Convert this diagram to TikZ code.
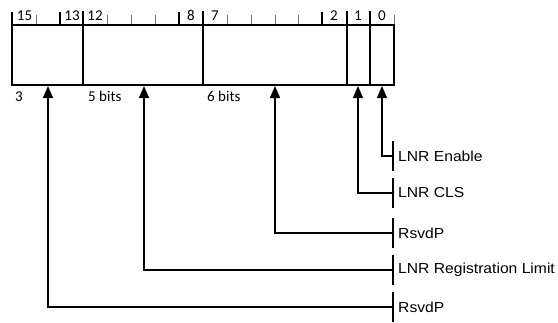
\documentclass[tikz,border=0pt]{standalone}
\usepackage{fontspec}
\setmainfont{Liberation Sans}
\newfontfamily\calib{Carlito}
\usetikzlibrary{arrows.meta}
\begin{document}
\begin{tikzpicture}[x=1pt,y=-1pt,
  fieldbox/.style={draw=black,line width=1.4pt},
  majtick/.style={draw=black,line width=1.4pt},
  mintick/.style={draw=black!55,line width=0.8pt},
  bitnum/.style={font=\calib\fontsize{15}{15}\selectfont,inner sep=0pt,anchor=base},
  widthlbl/.style={font=\calib\fontsize{15}{15}\selectfont,inner sep=0pt,anchor=base west},
  fieldlbl/.style={font=\fontsize{14.5}{14.5}\selectfont,inner sep=0pt,anchor=west,xscale=1.08,transform shape},
  conn/.style={draw=black,line width=1.5pt},
  uparrow/.style={conn,-{Triangle[length=12pt,width=10pt]}},
  brk/.style={draw=black,line width=1.5pt}
]
\useasboundingbox (0,0) rectangle (558,322);
% box
\draw[fieldbox] (12,25) rectangle (394,85);
\foreach \x in {83,203,347,370} \draw[majtick] (\x,11) -- (\x,85);
\foreach \x in {12,60,179,322} \draw[majtick] (\x,12) -- (\x,25);
\foreach \x in {36,107,131,155,227,251,275,298,394} \draw[mintick] (\x,15) -- (\x,24);
% bit numbers
\node[bitnum] (b15) at (24.5,20) {15};
\node[bitnum] (b13) at (72,20) {13};
\node[bitnum] (b12) at (95,20) {12};
\node[bitnum] (b8) at (191,20) {8};
\node[bitnum] (b7) at (215,20) {7};
\node[bitnum] (b2) at (334,20) {2};
\node[bitnum] (b1) at (358,20) {1};
\node[bitnum] (b0) at (382,20) {0};
% widths
\node[widthlbl] (w3) at (15,101) {3};
\node[widthlbl] (w5) at (88,101) {5 bits};
\node[widthlbl] (w6) at (207,101) {6 bits};
% labels
\node[fieldlbl] (l0) at (398,156) {LNR Enable};
\node[fieldlbl] (l1) at (398,193) {LNR CLS};
\node[fieldlbl] (l2) at (398,233) {RsvdP};
\node[fieldlbl] (l3) at (398,270) {LNR Registration Limit};
\node[fieldlbl] (l4) at (398,307) {RsvdP};
% brackets
\foreach \n in {l0,l1,l2,l3,l4} \draw[brk] ([yshift=-15pt]\n.west -| 393,0) -- ([yshift=15pt]\n.west -| 393,0);
% arrow anchors
\coordinate (a0) at (382,86);
\coordinate (a1) at (358,86);
\coordinate (a2) at (275,86);
\coordinate (a3) at (144,86);
\coordinate (a4) at (48,86);
\draw[uparrow] (l0.west -| 393,0) -| (a0);
\draw[uparrow] (l1.west -| 393,0) -| (a1);
\draw[uparrow] (l2.west -| 393,0) -| (a2);
\draw[uparrow] (l3.west -| 393,0) -| (a3);
\draw[uparrow] (l4.west -| 393,0) -| (a4);
\end{tikzpicture}
\end{document}
